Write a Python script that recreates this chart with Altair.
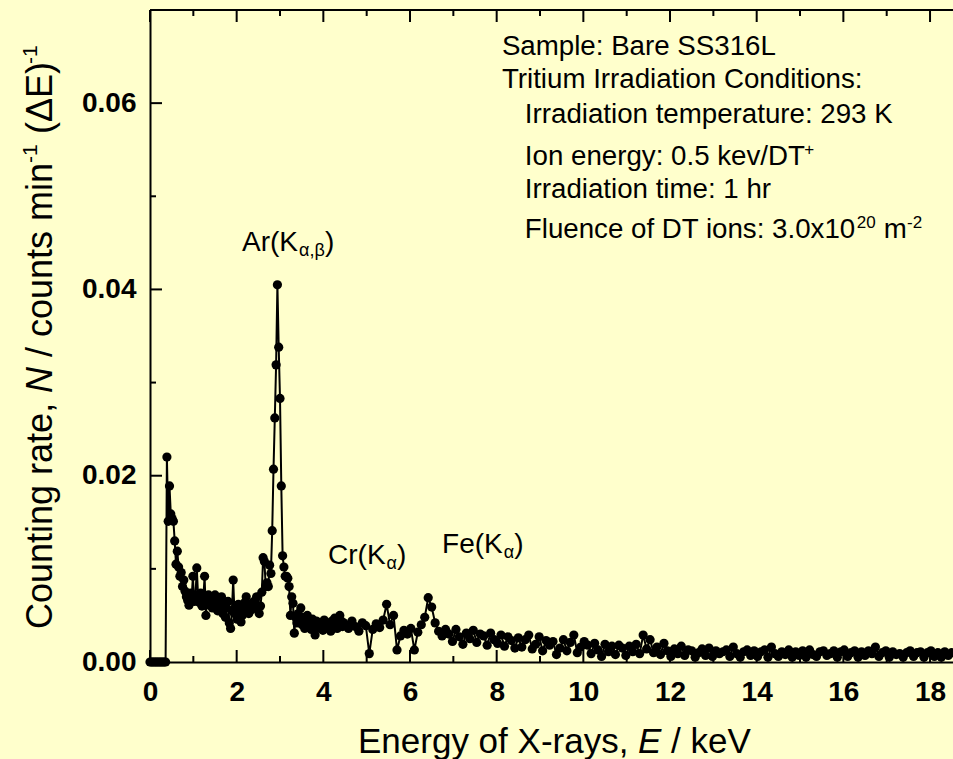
import altair as alt
import pandas as pd

# ---------------- data ----------------
# Spectrum, part 1: 0.00 - 4.47 keV, channel step 0.03 keV; counting rate in units of 1e-4
low_start, low_step = 0.00, 0.03
low_rate_e4 = [
    0, 0, 0, 0, 0, 0, 0, 0, 0, 0, 0, 0, 0,
    220, 151, 189, 159, 154, 151, 130, 105, 119, 102,
    92, 96, 81, 88, 76, 70, 66, 61, 74, 68,
    92, 65, 72, 101, 70, 64, 74, 60, 68, 92,
    50, 66, 72, 61, 70, 58, 66, 72, 63, 55,
    68, 60, 70, 52, 62, 48, 58, 65, 42, 36,
    55, 88, 52, 60, 46, 62, 55, 43, 50, 58,
    64, 70, 60, 52, 62, 56, 64, 58, 66, 70,
    60, 52, 60, 75, 112, 108, 81, 85, 81, 104,
    95, 141, 207, 262, 319, 405, 338, 283, 189, 114,
    102, 92, 92, 90, 81, 50, 70, 63, 31, 48,
    42, 52, 45, 58, 40, 48, 36, 44, 50, 38,
    42, 35, 46, 40, 29, 44, 38, 42, 36, 40,
    34, 45, 38, 42, 36, 40, 33, 44, 38, 47,
    40, 36, 42, 50, 44, 38, 42,
]
# Spectrum, part 2: 4.50 - 18.50 keV, channel step 0.08 keV; units of 1e-4
high_start, high_step = 4.50, 0.08
high_rate_e4 = [
    40, 36, 44, 38, 33, 42, 39, 9, 35, 41,
    37, 45, 62, 40, 50, 13, 28, 34, 30, 36,
    13, 32, 40, 48, 69, 59, 42, 33, 28, 35,
    30, 22, 35, 27, 19, 31, 25, 34, 21, 30,
    28, 18, 31, 24, 20, 29, 17, 27, 23, 15,
    26, 16, 24, 29, 14, 19, 27, 12, 23, 18,
    22, 8, 15, 24, 12, 21, 29, 10, 16, 22,
    18, 9, 20, 13, 6, 19, 11, 17, 8, 18,
    15, 7, 17, 11, 19, 9, 29, 14, 24, 10,
    16, 8, 20, 12, 6, 14, 9, 17, 7, 13,
    12, 5, 10, 14, 7, 15, 6, 12, 9, 11,
    13, 6, 16, 9, 5, 11, 13, 7, 12, 6,
    11, 13, 5, 16, 9, 6, 11, 8, 13, 5,
    11, 7, 12, 5, 13, 8, 6, 11, 12, 7,
    9, 12, 5, 11, 13, 6, 10, 12, 5, 11,
    7, 12, 9, 16, 6, 10, 12, 5, 11, 8,
    9, 5, 10, 12, 6, 10, 11, 5, 10, 12,
    6, 10, 5, 11, 7, 10,
]

# axes
x_domain = [0, 18.53]
y_domain = [0, 0.07]
x_labels = [0, 2, 4, 6, 8, 10, 12, 14, 16, 18]
x_minor = [1, 3, 5, 7, 9, 11, 13, 15, 17]
y_labels = [0.0, 0.02, 0.04, 0.06]
y_major_ticks = [0.02, 0.04, 0.06]
y_minor_ticks = [0.01, 0.03, 0.05]

# axis titles, split into upright / italic / superscript pieces
x_title_parts = ["Energy of X-rays,", "E", "/ keV"]
x_title_style = ["normal", "italic", "normal"]
x_title_px = [208, 488, 521]          # left edges along the axis (pixels)

y_title_parts = ["Counting rate,", "N", "/ counts min", "-1", "(\u0394E)", "-1"]
y_title_style = ["normal", "italic", "normal", "sup", "normal", "sup"]
y_title_py = [619, 383, 347, 153, 124, 54]   # start of each piece, measured upward

# info text block
info_lines = [
    "Sample: Bare SS316L",
    "Tritium Irradiation Conditions:",
    "Irradiation temperature: 293 K",
    "Ion energy: 0.5 kev/DT",
    "Irradiation time: 1 hr",
    "Fluence of DT ions: 3.0x10",
]
info_x = [8.12, 8.12, 8.65, 8.65, 8.65, 8.65]
info_y = [0.06517, 0.06163, 0.05787, 0.05336, 0.04982, 0.04552]
info_tail = ["m"]
info_tail_x = [16.93]
info_tail_y = [0.04552]
info_sup = ["+", "20", "-2"]
info_sup_x = [15.10, 16.31, 17.47]
info_sup_y = [0.05443, 0.04659, 0.04659]

# peak labels: main part, subscript, closing parenthesis
peak_main = ["Ar(K", "Cr(K", "Fe(K"]
peak_main_x = [2.123, 4.108, 6.739]
peak_main_y = [0.04413, 0.01052, 0.01170]
peak_sub = ["\u03b1,\u03b2", "\u03b1", "\u03b1"]
peak_sub_x = [3.438, 5.458, 8.163]
peak_sub_y = [0.04359, 0.00998, 0.01116]
peak_close_x = [4.038, 5.700, 8.405]

# ---------------- build tables ----------------
energy = [round(low_start + low_step * i, 3) for i in range(len(low_rate_e4))] + \
         [round(high_start + high_step * j, 3) for j in range(len(high_rate_e4))]
rate = [v / 1e4 for v in low_rate_e4 + high_rate_e4]
spec = pd.DataFrame({"E": energy, "N": rate, "order": list(range(len(energy)))})

FONT = "Liberation Sans"
W, H = 803, 652
xs = alt.Scale(domain=x_domain, nice=False, zero=False)
ys = alt.Scale(domain=y_domain, nice=False, zero=False)

line = alt.Chart(spec).mark_line(color="black", strokeWidth=2).encode(
    x=alt.X("E:Q", scale=xs,
            axis=alt.Axis(values=x_labels, title=None, format="d",
                          ticks=False, tickSize=0, grid=False,
                          labelFont=FONT, labelFontSize=28, labelFontWeight="bold",
                          labelColor="black", labelPadding=16, labelFlush=False,
                          domainColor="black", domainWidth=2)),
    y=alt.Y("N:Q", scale=ys,
            axis=alt.Axis(values=y_labels, title=None, format=".2f",
                          ticks=False, tickSize=0, grid=False,
                          labelFont=FONT, labelFontSize=28, labelFontWeight="bold",
                          labelColor="black", labelPadding=14, labelFlush=False,
                          domainColor="black", domainWidth=2)),
    order="order:Q",
)

points = alt.Chart(spec).mark_circle(color="black", size=85, opacity=1).encode(
    x=alt.X("E:Q", scale=xs), y=alt.Y("N:Q", scale=ys)
)

xmaj = pd.DataFrame({"t": x_labels})
xmin = pd.DataFrame({"t": x_minor})
ymaj = pd.DataFrame({"t": y_major_ticks})
ymin = pd.DataFrame({"t": y_minor_ticks})

def xticks(df, y0, y1):
    return alt.Chart(df).mark_rule(color="black", strokeWidth=2).encode(
        x=alt.X("t:Q", scale=xs), y=alt.value(y0), y2=alt.value(y1))

def yticks(df, x0, x1):
    return alt.Chart(df).mark_rule(color="black", strokeWidth=2).encode(
        y=alt.Y("t:Q", scale=ys), x=alt.value(x0), x2=alt.value(x1))

top_border = alt.Chart(pd.DataFrame({"k": [0]})).mark_rule(color="black", strokeWidth=2).encode(
    x=alt.value(0), x2=alt.value(W), y=alt.value(0))

ticks = [
    xticks(xmaj, H, H - 12), xticks(xmin, H, H - 6),
    xticks(xmaj, 0, 12), xticks(xmin, 0, 6),
    yticks(ymaj, 0, 12), yticks(ymin, 0, 6),
    top_border,
]

def txt(df, size, **kw):
    return alt.Chart(df).mark_text(font=FONT, fontSize=size, align="left",
                                   baseline="alphabetic", color="black", **kw).encode(
        x=alt.X("x:Q", scale=xs), y=alt.Y("y:Q", scale=ys), text="t:N")

info = txt(pd.DataFrame({"x": info_x, "y": info_y, "t": info_lines}), 27.7)
info_t = txt(pd.DataFrame({"x": info_tail_x, "y": info_tail_y, "t": info_tail}), 27.7)
info_s = txt(pd.DataFrame({"x": info_sup_x, "y": info_sup_y, "t": info_sup}), 17)

pm = txt(pd.DataFrame({"x": peak_main_x, "y": peak_main_y, "t": peak_main}), 28)
ps = txt(pd.DataFrame({"x": peak_sub_x, "y": peak_sub_y, "t": peak_sub}), 18)
pc = txt(pd.DataFrame({"x": peak_close_x, "y": peak_main_y, "t": [")", ")", ")"]}), 28)

# x-axis title pieces (below the plot, pixel placement of an axis title)
xt = []
for part, style, px in zip(x_title_parts, x_title_style, x_title_px):
    xt.append(alt.Chart(pd.DataFrame({"t": [part]})).mark_text(
        font=FONT, fontSize=35, fontStyle=style, align="left", baseline="alphabetic",
        color="black").encode(x=alt.value(px), y=alt.value(743), text="t:N"))

# y-axis title pieces (rotated)
yt = []
for part, style, py in zip(y_title_parts, y_title_style, y_title_py):
    sup = style == "sup"
    yt.append(alt.Chart(pd.DataFrame({"t": [part]})).mark_text(
        font=FONT, fontSize=21 if sup else 36,
        fontStyle="italic" if style == "italic" else "normal",
        angle=270, align="left", baseline="alphabetic", color="black").encode(
        x=alt.value(-113 if sup else -98), y=alt.value(py), text="t:N"))

chart = alt.layer(line, points, *ticks, info, info_t, info_s, pm, ps, pc, *xt, *yt).properties(
    width=W, height=H,
    autosize=alt.AutoSizeParams(type="none"),
    padding={"left": 150, "top": 10, "right": 0, "bottom": 97},
    background="#FFFFCC",
).configure_view(stroke=None)

chart.save("out.html", embed_options={"renderer": "svg", "actions": False})
